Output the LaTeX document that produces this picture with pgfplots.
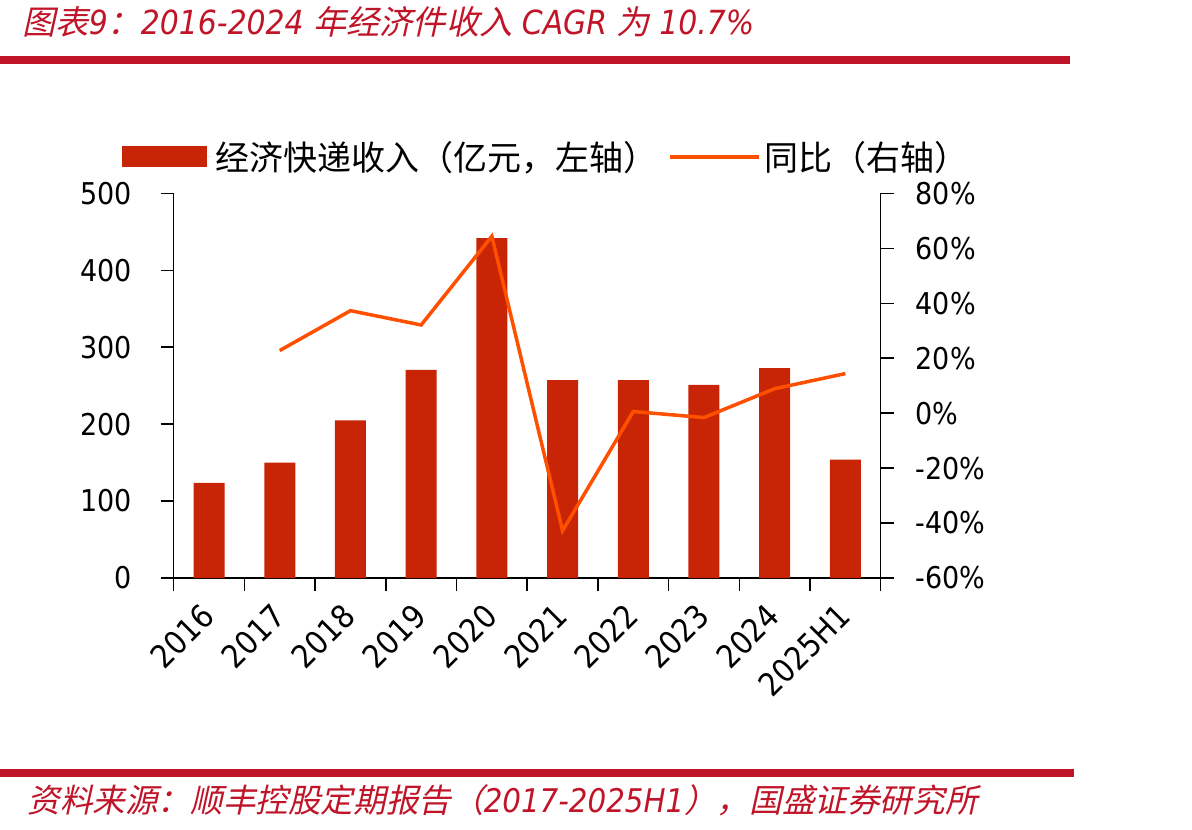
\documentclass[border=0pt]{standalone}
\usepackage{pgfplots}
\pgfplotsset{compat=1.18}
\usepackage{pgfplotstable}
\usepackage{fontspec}
\setmainfont{DejaVu Sans Condensed}
\newfontfamily\cjk{Noto Sans CJK SC}
\newfontfamily\cjkit{Noto Sans CJK SC}[FakeSlant=0.22]
\definecolor{barred}{RGB}{200,37,6}
\definecolor{lineor}{RGB}{255,80,0}
\definecolor{hdrred}{RGB}{192,20,40}

\pgfplotstableread{
x val
0 123.7
1 150
2 205
3 270.5
4 442
5 257.3
6 257.3
7 251.2
8 273
9 154
}\bars
\pgfplotstableread{
x val
1 22.8
2 37.3
3 32.1
4 64.4
5 -42.8
6 0.6
7 -1.6
8 8.9
9 14.4
}\growth

\begin{document}
\begin{tikzpicture}
\useasboundingbox (0,0) rectangle (596pt,414.5pt);
\fill[hdrred] (0,382.5pt) rectangle (535pt,386.5pt);
\fill[hdrred] (0,26pt) rectangle (537pt,30pt);
\node[anchor=west, inner sep=0pt, text=hdrred, font=\fontsize{16.6}{16.6}\selectfont] at (11pt,403.5pt)
 {{\cjkit 图表}\textit{9}{\cjkit ：}\textit{2016-2024} {\cjkit 年经济件收入} \textit{CAGR} {\cjkit 为} \textit{10.7\%}};
\node[anchor=west, inner sep=0pt, text=hdrred, font=\fontsize{16.3}{16.3}\selectfont] at (13.5pt,14.5pt)
 {{\cjkit 资料来源：顺丰控股定期报告（}\textit{2017-2025H1}{\cjkit ），国盛证券研究所}};

\begin{axis}[
 at={(86.85pt,125.5pt)}, anchor=south west,
 scale only axis, width=353.5pt, height=192.3pt,
 xmin=-0.5, xmax=9.5, ymin=0, ymax=500,
 axis x line*=bottom, axis y line*=left,
 axis line style={line width=0.75pt, -},
 tick align=outside,
 major tick length=6.5pt, minor tick length=6.5pt,
 tick style={black, line width=0.75pt},
 xtick={0,...,9},
 xticklabels={2016,2017,2018,2019,2020,2021,2022,2023,2024,2025H1},
 minor xtick={-0.5,0.5,...,9.5},
 major x tick style={draw=none},
 ytick={0,100,...,500},
 tick label style={font=\fontsize{15}{15}\selectfont},
 /pgf/number format/assume math mode=true,
 xticklabel style={font=\fontsize{16}{16}\selectfont, xshift=2pt, yshift=-7pt, rotate=45, anchor=east},
 yticklabel style={xshift=-11pt},
 legend columns=2,
 legend style={at={(-0.0731,1.0947)}, anchor=west, draw=none, fill=none, inner sep=0pt,
   font=\cjk\fontsize{17}{17}\selectfont,
   /tikz/every even column/.append style={column sep=3.5pt}},
]
\addplot[ybar, fill=barred, draw=none, bar width=15.5pt,
  legend image code/.code={\fill[barred] (0pt,-5.25pt) rectangle (42.5pt,5.25pt);\path (0pt,0pt) -- (44.5pt,0pt);}]
  table[x=x,y=val]{\bars};
\addlegendentry{经济快递收入（亿元，左轴）}
\addlegendimage{lineor, line width=1.75pt,
  legend image code/.code={\draw[lineor, line width=1.75pt] (0pt,0pt) -- (41.5pt,0pt);\path (0pt,0pt) -- (44.5pt,0pt);}}
\addlegendentry{同比（右轴）}
\end{axis}

\begin{axis}[
 at={(86.85pt,125.5pt)}, anchor=south west,
 scale only axis, width=353.5pt, height=192.3pt,
 xmin=-0.5, xmax=9.5, ymin=-60, ymax=80,
 axis y line*=right, axis x line=none,
 axis line style={line width=0.75pt, -},
 tick align=outside,
 major tick length=6.5pt,
 tick style={black, line width=0.75pt},
 ytick={-60,-40,...,80},
 yticklabel={\pgfmathprintnumber{\tick}\%},
 tick label style={font=\fontsize{15}{15}\selectfont},
 /pgf/number format/assume math mode=true,
 yticklabel style={xshift=7.5pt},
]
\addplot[lineor, line width=1.75pt, mark=none] table[x=x,y=val]{\growth};
\end{axis}
\end{tikzpicture}
\end{document}
